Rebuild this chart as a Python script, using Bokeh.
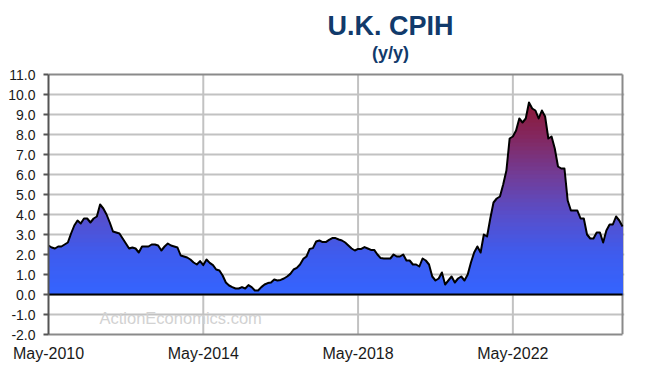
import numpy as np
from bokeh.plotting import figure
from bokeh.models import Range1d, FixedTicker, Label, PrintfTickFormatter
from bokeh.embed import file_html
from bokeh.resources import INLINE

title_text = "U.K. CPIH"
subtitle_text = "(y/y)"
watermark_text = "ActionEconomics.com"

# U.K. CPIH, % y/y, monthly from May-2010 to Mar-2025
cpih_2010 = [2.45, 2.35, 2.3, 2.4, 2.4, 2.5, 2.6, 3.05]  # May-Dec
cpih_2011 = [3.45, 3.7, 3.55, 3.8, 3.8, 3.6, 3.8, 3.9, 4.5, 4.3, 4.0, 3.6]
cpih_2012 = [3.15, 3.1, 3.05, 2.8, 2.55, 2.3, 2.35, 2.3, 2.1, 2.4, 2.4, 2.4]
cpih_2013 = [2.5, 2.5, 2.45, 2.2, 2.4, 2.55, 2.45, 2.4, 2.35, 1.95, 1.9, 1.85]
cpih_2014 = [1.75, 1.6, 1.5, 1.67, 1.47, 1.75, 1.58, 1.47, 1.25, 1.2, 0.95, 0.6]
cpih_2015 = [0.45, 0.37, 0.3, 0.3, 0.37, 0.3, 0.47, 0.37, 0.2, 0.2, 0.37, 0.5]
cpih_2016 = [0.57, 0.6, 0.75, 0.7, 0.73, 0.8, 0.9, 1.03, 1.25, 1.33, 1.5, 1.78]
cpih_2017 = [1.9, 2.28, 2.32, 2.65, 2.7, 2.62, 2.62, 2.73, 2.82, 2.82, 2.75, 2.7]
cpih_2018 = [2.6, 2.45, 2.3, 2.2, 2.28, 2.28, 2.37, 2.3, 2.23, 2.23, 2.0, 1.82]
cpih_2019 = [1.8, 1.8, 1.8, 2.0, 1.9, 1.9, 2.0, 1.7, 1.7, 1.5, 1.5, 1.4]
cpih_2020 = [1.8, 1.7, 1.5, 0.9, 0.7, 0.8, 1.1, 0.5, 0.7, 0.9, 0.6, 0.8]
cpih_2021 = [0.9, 0.7, 1.0, 1.6, 2.1, 2.4, 2.1, 3.0, 2.9, 3.8, 4.6, 4.8]
cpih_2022 = [4.9, 5.5, 6.2, 7.8, 7.9, 8.2, 8.8, 8.6, 8.8, 9.6, 9.3, 9.2]
cpih_2023 = [8.8, 9.2, 8.9, 7.8, 7.9, 7.3, 6.4, 6.3, 6.3, 4.7, 4.2, 4.2]
cpih_2024 = [4.2, 3.8, 3.8, 3.0, 2.8, 2.8, 3.1, 3.1, 2.6, 3.2, 3.5, 3.5]
cpih_2025 = [3.9, 3.7, 3.4]  # Jan-Mar

values = np.array(cpih_2010 + cpih_2011 + cpih_2012 + cpih_2013 + cpih_2014 +
                  cpih_2015 + cpih_2016 + cpih_2017 + cpih_2018 + cpih_2019 +
                  cpih_2020 + cpih_2021 + cpih_2022 + cpih_2023 + cpih_2024 +
                  cpih_2025)
months = np.arange(len(values))  # months since May-2010

tick_months = [0, 48, 96, 144]
tick_labels = ["May-2010", "May-2014", "May-2018", "May-2022"]
y_min, y_max = -2, 11
y_ticks = list(range(y_min, y_max + 1))

x_end = len(values) - 1
px_per_month = 574 / x_end
px_per_unit = 20.0
frame_h = 334  # plot area plus the title space above it
y_top = y_min + frame_h / px_per_unit

p = figure(frame_width=576, frame_height=frame_h,
           min_border_left=48, min_border_right=29,
           min_border_top=0, min_border_bottom=29,
           x_range=Range1d(0, x_end + 2 / px_per_month), y_range=Range1d(y_min, y_top),
           output_backend="svg", toolbar_location=None)
p.background_fill_color = "white"
p.border_fill_color = "white"
p.outline_line_color = None

# axes
p.xaxis.ticker = FixedTicker(ticks=tick_months)
p.xaxis.major_label_overrides = {m: lab for m, lab in zip(tick_months, tick_labels)}
p.xaxis.bounds = (0, x_end)
p.xaxis.major_tick_out = 0
p.xaxis.major_tick_in = 0
p.xaxis.minor_tick_out = 0
p.xaxis.minor_tick_in = 0
p.xaxis.axis_line_color = "#8a8a8a"
p.xaxis.axis_line_width = 2
p.xaxis.major_label_text_font = "Liberation Sans"
p.xaxis.major_label_text_font_size = "16px"
p.xaxis.major_label_text_color = "#1a1a1a"
p.xaxis.major_label_standoff = 10

p.yaxis.ticker = FixedTicker(ticks=y_ticks)
p.yaxis.bounds = (y_min, y_max)
p.yaxis.formatter = PrintfTickFormatter(format="%.1f")
p.yaxis.major_tick_out = 5
p.yaxis.major_tick_in = 0
p.yaxis.minor_tick_out = 0
p.yaxis.minor_tick_in = 0
p.yaxis.major_tick_line_color = "#555555"
p.yaxis.major_tick_line_width = 2
p.yaxis.axis_line_color = "#555555"
p.yaxis.axis_line_width = 2
p.yaxis.major_label_text_font = "Liberation Sans"
p.yaxis.major_label_text_font_size = "14px"
p.yaxis.major_label_text_color = "#1a1a1a"
p.yaxis.major_label_standoff = 8

# grid: horizontal lines from the grid model, vertical lines limited to the plot area
p.xgrid.visible = False
p.ygrid.ticker = FixedTicker(ticks=list(range(y_min + 1, y_max)))
p.ygrid.bounds = (0, x_end)
p.ygrid.grid_line_color = "#c2c2c2"
p.ygrid.grid_line_width = 2
vgrid = tick_months[1:]
p.segment(x0=vgrid, y0=[y_min] * len(vgrid), x1=vgrid, y1=[y_max] * len(vgrid),
          line_color="#c2c2c2", line_width=2)

# plot-area border (top and right)
p.segment(x0=[0, x_end], y0=[y_max, y_min], x1=[x_end, x_end], y1=[y_max, y_max],
          line_color="#8a8a8a", line_width=2)

# vertical gradient fill (blue at bottom to dark red at the top)
stops_y = [0.0, 2.0, 4.0, 6.0, 8.0, 9.8]
stops_rgb = np.array([[52, 100, 255], [62, 92, 238], [88, 78, 202],
                      [114, 60, 150], [132, 38, 92], [140, 22, 48]], dtype=float)


def grad_color(y):
    r = np.interp(y, stops_y, stops_rgb[:, 0])
    g = np.interp(y, stops_y, stops_rgb[:, 1])
    b = np.interp(y, stops_y, stops_rgb[:, 2])
    return "#%02x%02x%02x" % (int(round(r)), int(round(g)), int(round(b)))


step = 0.2
edges = np.arange(0.0, 10.0 + step / 2, step)
for k in range(len(edges) - 2, -1, -1):
    top = np.minimum(values, edges[k + 1])
    p.varea(x=months, y1=np.zeros_like(values), y2=top,
            fill_color=grad_color((edges[k] + edges[k + 1]) / 2), fill_alpha=1.0)

p.line(months, values, line_color="black", line_width=2, line_join="round")
p.segment(x0=[0], y0=[0], x1=[x_end], y1=[0], line_color="black", line_width=2)

# titles and watermark (screen units from the frame's bottom-left corner)
p.add_layout(Label(x=342, y=frame_h - 25, x_units="screen", y_units="screen",
                   text=title_text, text_align="center", text_baseline="alphabetic",
                   text_font="Liberation Sans", text_font_size="27px",
                   text_font_style="bold", text_color="#113a6b"))
p.add_layout(Label(x=342, y=frame_h - 52, x_units="screen", y_units="screen",
                   text=subtitle_text, text_align="center", text_baseline="alphabetic",
                   text_font="Liberation Sans", text_font_size="18px",
                   text_font_style="bold", text_color="#113a6b"))
p.add_layout(Label(x=51, y=17, x_units="screen", y_units="screen",
                   text=watermark_text, text_align="left", text_baseline="alphabetic",
                   text_font="Liberation Sans", text_font_size="16.5px",
                   text_color="#d2d2d2"))

open("out.html", "w").write(file_html(p, INLINE))
